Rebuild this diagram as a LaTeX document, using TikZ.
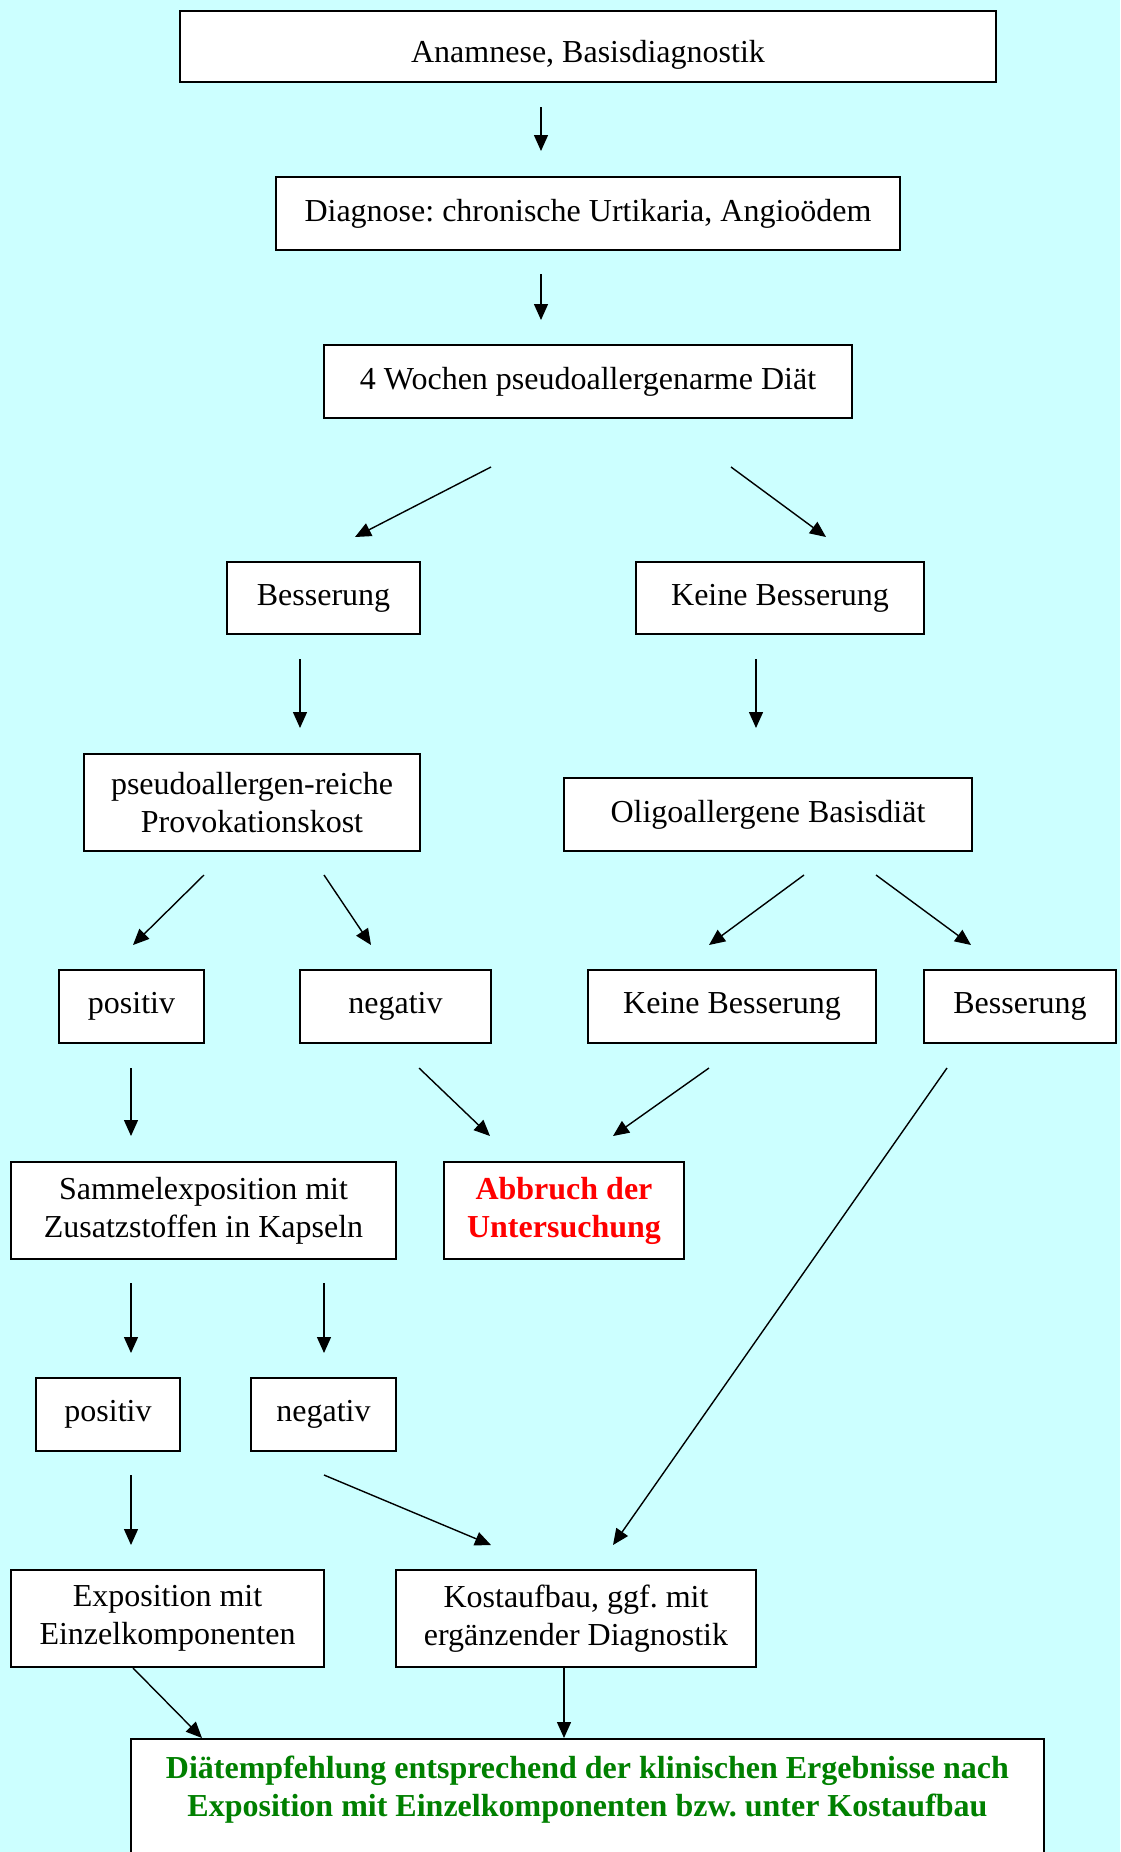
\documentclass[tikz,border=0pt]{standalone}
\usepackage{fontspec}
\setmainfont{Liberation Serif}
\usepackage{xcolor}
\usepackage{tikz}
\usetikzlibrary{arrows.meta, calc}

\definecolor{bgcyan}{HTML}{CCFFFF}
\definecolor{stopred}{HTML}{FF0000}
\definecolor{diaetgreen}{HTML}{008000}

\frenchspacing

\begin{document}
\begin{tikzpicture}[
    x=0.5pt,
    y=-0.5pt,
    block/.style={rectangle, draw, fill=white, line width=1pt,
                  inner sep=0pt, align=center,
                  font=\fontsize{16}{19}\selectfont},
    arrow/.style={-{Triangle[length=8pt, width=7pt]}, line width=0.7pt},
]
\fill[bgcyan, use as bounding box] (0,0) rectangle (1120,1852);

\node[block, minimum width=408pt, minimum height=35.5pt,
      text height=19pt, text depth=3.5pt] (anam) at (588,46.5) {Anamnese, Basisdiagnostik};
\node[block, minimum width=312pt, minimum height=36.5pt] (diag)   at (588,213.5)  {Diagnose: chronische Urtikaria, Angioödem};
\node[block, minimum width=264pt, minimum height=36.5pt] (diaet)  at (588,381.5)  {4 Wochen pseudoallergenarme Diät};
\node[block, minimum width=96.5pt, minimum height=36pt]  (bess)   at (323.5,598)  {Besserung};
\node[block, minimum width=144pt, minimum height=36pt]   (kbess)  at (780,598)    {Keine Besserung};
\node[block, minimum width=168pt, minimum height=48.5pt] (provo)  at (252,802.5)  {pseudoallergen-reiche\\Provokationskost};
\node[block, minimum width=204pt, minimum height=36.5pt] (oligo)  at (768,814.5)  {Oligoallergene Basisdiät};
\node[block, minimum width=72.5pt, minimum height=36.5pt] (pos)   at (131.5,1006.5) {positiv};
\node[block, minimum width=95.5pt, minimum height=36.5pt] (neg)   at (395.5,1006.5) {negativ};
\node[block, minimum width=144pt, minimum height=36.5pt] (kbess2) at (732,1006.5)  {Keine Besserung};
\node[block, minimum width=96pt, minimum height=36.5pt]  (bess2)  at (1020,1006.5) {Besserung};
\node[block, minimum width=192.5pt, minimum height=48.5pt] (sammel) at (203.5,1210.5) {Sammelexposition mit\\Zusatzstoffen in Kapseln};
\node[block, minimum width=120pt, minimum height=48.5pt, text=stopred,
      font=\fontsize{16}{19}\selectfont\bfseries] (abbruch) at (564,1210.5) {Abbruch der\\Untersuchung};
\node[block, minimum width=72pt, minimum height=36.5pt]  (pos2)   at (108,1414.5)  {positiv};
\node[block, minimum width=72.5pt, minimum height=36.5pt] (neg2)  at (323.5,1414.5) {negativ};
\node[block, minimum width=156.5pt, minimum height=48.5pt] (expo) at (167.5,1618.5) {Exposition mit\\Einzelkomponenten};
\node[block, minimum width=180pt, minimum height=48.5pt] (kost)   at (576,1618.5)  {Kostaufbau, ggf. mit\\ergänzender Diagnostik};
\node[block, anchor=north, minimum width=456.5pt, inner ysep=8.5pt, text depth=60pt,
      text=diaetgreen, font=\fontsize{16}{19}\selectfont\bfseries] (empf) at (587.5,1738)
      {Diätempfehlung entsprechend der klinischen Ergebnisse nach\\Exposition mit Einzelkomponenten bzw. unter Kostaufbau};

\draw[arrow] ($(anam.south)+(-47,24)$) -- ($(diag.north)+(-47,-25)$);
\draw[arrow] ($(diag.south)+(-47,23)$) -- ($(diaet.north)+(-47,-24)$);
\draw[arrow] ($(diaet.south)+(-97,48)$) -- ($(bess.north)+(31.5,-24)$);
\draw[arrow] ($(diaet.south)+(143,48)$) -- ($(kbess.north)+(46,-24)$);
\draw[arrow] ($(bess.south)+(-23.5,24)$) -- ($(provo.north)+(48,-25)$);
\draw[arrow] ($(kbess.south)+(-24,24)$) -- ($(oligo.north)+(-12,-49)$);
\draw[arrow] ($(provo.south)+(-48,23)$) -- ($(pos.north)+(1.5,-24)$);
\draw[arrow] ($(provo.south)+(72,23)$) -- ($(neg.north)+(-24.5,-24)$);
\draw[arrow] ($(oligo.south)+(36,23)$) -- ($(kbess2.north)+(-23,-24)$);
\draw[arrow] ($(oligo.south)+(108,23)$) -- ($(bess2.north)+(-49,-24)$);
\draw[arrow] ($(pos.south)+(-0.5,24)$) -- ($(sammel.north)+(-72.5,-25)$);
\draw[arrow] ($(neg.south)+(23.5,24)$) -- ($(abbruch.north)+(-74,-25)$);
\draw[arrow] ($(kbess2.south)+(-23,24)$) -- ($(abbruch.north)+(49,-25)$);
\draw[arrow] ($(bess2.south)+(-73,24)$) -- ($(kost.north)+(37,-24)$);
\draw[arrow] ($(sammel.south)+(-72.5,23)$) -- ($(pos2.north)+(23,-24)$);
\draw[arrow] ($(sammel.south)+(120.5,23)$) -- ($(neg2.north)+(0.5,-24)$);
\draw[arrow] ($(pos2.south)+(23,23)$) -- ($(expo.north)+(-36.5,-24)$);
\draw[arrow] ($(neg2.south)+(0.5,23)$) -- ($(kost.north)+(-85,-24)$);
\draw[arrow] ($(expo.south)+(-34.5,0)$) -- ($(empf.north)+(-385.5,0)$);
\draw[arrow] ($(kost.south)+(-12,0)$) -- ($(empf.north)+(-23.5,0)$);
\end{tikzpicture}
\end{document}
